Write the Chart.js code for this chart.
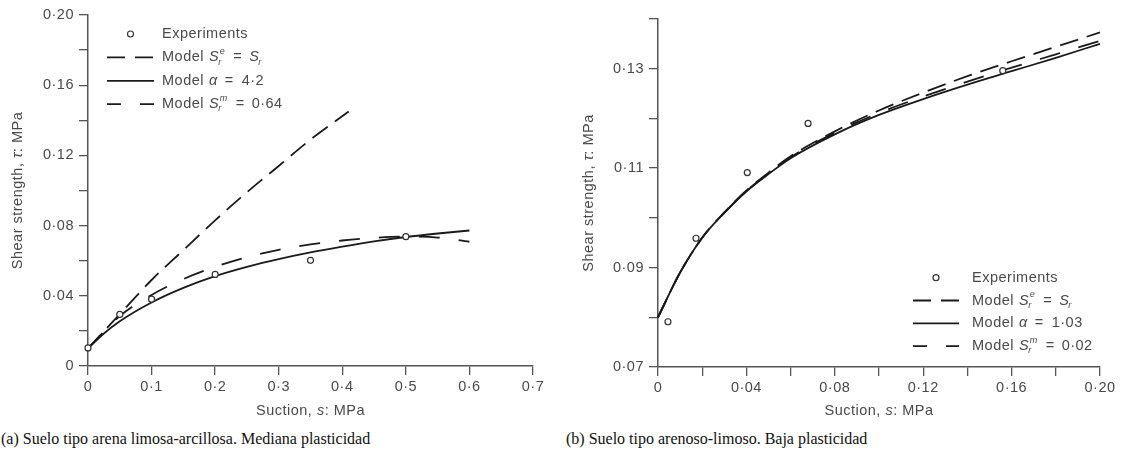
<!DOCTYPE html>
<html>
<head>
<meta charset="utf-8">
<script src="https://cdn.jsdelivr.net/npm/chart.js@4.4.0/dist/chart.umd.min.js"></script>
<style>
  body { margin: 0; background: #fff; width: 1122px; height: 459px; position: relative; overflow: hidden; }
  canvas { position: absolute; top: 0; }
  #chartA { left: 0; }
  #chartB { left: 561px; }
  .caption { position: absolute; top: 430px; font-family: 'Liberation Serif', 'Times New Roman', serif; font-size: 16px; color: #111; white-space: nowrap; }
</style>
</head>
<body>
<canvas id="chartA" width="560" height="425"></canvas>
<canvas id="chartB" width="561" height="425"></canvas>
<div class="caption" style="left:1px">(a) Suelo tipo arena limosa-arcillosa. Mediana plasticidad</div>
<div class="caption" style="left:566px">(b) Suelo tipo arenoso-limoso. Baja plasticidad</div>
<script>
// (a) arena limosa-arcillosa
const expA_s   = [0, 0.05, 0.1, 0.2, 0.35, 0.5];
const expA_tau = [0.0103, 0.0294, 0.0381, 0.0522, 0.0602, 0.0737];
const srEA_s   = [0, 0.05, 0.1, 0.15, 0.2, 0.25, 0.3, 0.35, 0.41];
const srEA_tau = [0.010, 0.0295, 0.049, 0.066, 0.083, 0.099, 0.114, 0.129, 0.145];
const alphaA_s   = [0, 0.025, 0.05, 0.1, 0.15, 0.2, 0.25, 0.3, 0.35, 0.4, 0.45, 0.5, 0.55, 0.6];
const alphaA_tau = [0.010, 0.0185, 0.0255, 0.0362, 0.0445, 0.0512, 0.0565, 0.0609, 0.0647, 0.0680, 0.0710, 0.0735, 0.0755, 0.0772];
const srMA_s   = [0, 0.05, 0.1, 0.15, 0.2, 0.25, 0.3, 0.35, 0.4, 0.45, 0.5, 0.55, 0.6];
const srMA_tau = [0.010, 0.0285, 0.0405, 0.0495, 0.0565, 0.062, 0.0662, 0.0693, 0.0715, 0.073, 0.0737, 0.0732, 0.0708];
const alphaA = '4·2';
const srmA = '0·64';
const ticksA_x = [0, 0.1, 0.2, 0.3, 0.4, 0.5, 0.6, 0.7];
const ticksA_y = [0, 0.04, 0.08, 0.12, 0.16, 0.20];

// (b) arenoso-limoso
const expB_s   = [0.0045, 0.0172, 0.0404, 0.0679, 0.156];
const expB_tau = [0.0791, 0.0959, 0.1091, 0.1190, 0.1296];
const modelB_s   = [0, 0.01, 0.02, 0.03, 0.04, 0.05, 0.06, 0.08, 0.10, 0.12, 0.14, 0.16, 0.18, 0.20];
const srEB_tau   = [0.0800, 0.0890, 0.0960, 0.1011, 0.1055, 0.1091, 0.1124, 0.1174, 0.1216, 0.1252, 0.1285, 0.1315, 0.1344, 0.1373];
const alphaB_tau = [0.0800, 0.0890, 0.0960, 0.1010, 0.1053, 0.1088, 0.1120, 0.1168, 0.1207, 0.1239, 0.1268, 0.1295, 0.1322, 0.1350];
const srMB_tau   = [0.0800, 0.0890, 0.0960, 0.1010, 0.1054, 0.1089, 0.1122, 0.1171, 0.1211, 0.1244, 0.1274, 0.1302, 0.1329, 0.1356];
const alphaB = '1·03';
const srmB = '0·02';
const ticksB_x = [0, 0.04, 0.08, 0.12, 0.16, 0.20];
const ticksB_y = [0.07, 0.09, 0.11, 0.13];

const FONT = '"Liberation Sans", Arial, Helvetica, sans-serif';
const SIZE = 14.5;
const SPACING = '0.5px';
const TEXT = '#4a4a4a';
const AXIS = '#555';
const INK = '#1a1a1a';
const DASH_E = [19, 9];
const DASH_M = [21, 19];

const pts = (xs, ys) => xs.map((x, i) => ({ x: x, y: ys[i] }));

function fmt(v, dec) {
  if (Math.abs(v) < 1e-9) return '0';
  return v.toFixed(dec).replace('.', '·');
}
function tickCb(labels, dec) {
  return function(value) {
    return labels.some(l => Math.abs(l - value) < 1e-7) ? fmt(value, dec) : '';
  };
}

// texto con cursivas, subíndices y superíndices; gap = espacio en px tras la pieza
function richText(ctx, parts, x, y, size, draw) {
  let cx = x;
  for (const p of parts) {
    const style = p.it ? 'italic ' : '';
    ctx.font = style + size + 'px ' + FONT;
    const w = ctx.measureText(p.t).width;
    if (draw) ctx.fillText(p.t, cx, y);
    let extra = 0;
    const small = Math.round(size * 0.62);
    if (p.sup) {
      ctx.font = style + small + 'px ' + FONT;
      if (draw) ctx.fillText(p.sup, cx + w + 0.5, y - size * 0.42);
      extra = Math.max(extra, ctx.measureText(p.sup).width + 0.5);
    }
    if (p.sub) {
      ctx.font = style + small + 'px ' + FONT;
      if (draw) ctx.fillText(p.sub, cx + w - 1, y + size * 0.32);
      extra = Math.max(extra, ctx.measureText(p.sub).width - 1);
    }
    cx += w + extra + (p.gap || 0);
  }
  return cx - x;
}

const decorPlugin = {
  id: 'decor',
  beforeDraw(chart) {
    chart.ctx.letterSpacing = SPACING;
  },
  afterDraw(chart, args, opts) {
    const ctx = chart.ctx;
    const area = chart.chartArea;
    ctx.save();
    ctx.letterSpacing = SPACING;
    ctx.fillStyle = TEXT;
    ctx.textBaseline = 'middle';
    ctx.textAlign = 'left';

    // título eje x
    const xt = [{ t: 'Suction, ' }, { t: 's', it: true }, { t: ': MPa' }];
    let w = richText(ctx, xt, 0, 0, SIZE, false);
    richText(ctx, xt, (area.left + area.right) / 2 - w / 2, opts.xTitleY, SIZE, true);

    // título eje y
    const yt = [{ t: 'Shear strength, ' }, { t: 'τ', it: true }, { t: ': MPa' }];
    w = richText(ctx, yt, 0, 0, SIZE, false);
    ctx.save();
    ctx.translate(opts.yTitleX, (area.top + area.bottom) / 2);
    ctx.rotate(-Math.PI / 2);
    richText(ctx, yt, -w / 2, 0, SIZE, true);
    ctx.restore();

    // leyenda
    const lg = opts.legend;
    lg.rows.forEach((row, i) => {
      const y = lg.y0 + i * lg.dy;
      ctx.strokeStyle = INK;
      ctx.lineWidth = 1.8;
      if (row.kind === 'marker') {
        ctx.beginPath();
        ctx.arc((lg.x0 + lg.x1) / 2, y, 3, 0, Math.PI * 2);
        ctx.fillStyle = '#fff';
        ctx.fill();
        ctx.lineWidth = 1.2;
        ctx.strokeStyle = '#333';
        ctx.stroke();
      } else {
        ctx.setLineDash(row.dash);
        ctx.beginPath();
        ctx.moveTo(lg.x0, y);
        ctx.lineTo(lg.x1, y);
        ctx.stroke();
        ctx.setLineDash([]);
      }
      ctx.fillStyle = TEXT;
      richText(ctx, row.parts, lg.xt, y, SIZE, true);
    });
    ctx.restore();
  }
};

function axisOpts(min, max, step, labels, dec, fixed, isY) {
  return {
    type: 'linear',
    min: min,
    max: max,
    afterFit(scale) {
      if (isY) scale.width = fixed; else scale.height = fixed;
    },
    ticks: {
      stepSize: step,
      autoSkip: false,
      maxRotation: 0,
      padding: isY ? 5 : 3,
      color: TEXT,
      font: { family: FONT, size: SIZE },
      callback: tickCb(labels, dec)
    },
    grid: {
      drawOnChartArea: false,
      drawTicks: true,
      tickLength: 9,
      tickColor: AXIS,
      lineWidth: 1.3
    },
    border: { display: true, color: AXIS, width: 1.5 }
  };
}

function lineSet(data, dash) {
  return {
    data: data,
    showLine: true,
    borderColor: INK,
    borderWidth: 1.8,
    borderDash: dash,
    pointRadius: 0,
    cubicInterpolationMode: 'monotone',
    fill: false,
    clip: false
  };
}
function expSet(data) {
  return {
    data: data,
    showLine: false,
    pointStyle: 'circle',
    pointRadius: 3,
    pointBorderWidth: 1.2,
    pointBorderColor: '#333',
    pointBackgroundColor: '#fff',
    clip: false
  };
}

function legendRows(alpha, srm) {
  return [
    { kind: 'marker', parts: [{ t: 'Experiments' }] },
    { kind: 'line', dash: [18, 10], parts: [{ t: 'Model', gap: 5 }, { t: 'S', it: true, sup: 'e', sub: 'r', gap: 8 }, { t: '=', gap: 7 }, { t: 'S', it: true, sub: 'r' }] },
    { kind: 'line', dash: [], parts: [{ t: 'Model', gap: 5 }, { t: 'α', it: true, gap: 7 }, { t: '=', gap: 8 }, { t: alpha }] },
    { kind: 'line', dash: [14, 19], parts: [{ t: 'Model', gap: 5 }, { t: 'S', it: true, sup: 'm', sub: 'r', gap: 8 }, { t: '=', gap: 7 }, { t: srm }] }
  ];
}

function makeChart(id, datasets, xs, ys, layout, decor) {
  return new Chart(document.getElementById(id).getContext('2d'), {
    type: 'scatter',
    data: { datasets: datasets },
    options: {
      responsive: false,
      animation: false,
      events: [],
      layout: { padding: layout.padding },
      plugins: {
        legend: { display: false },
        tooltip: { enabled: false },
        decor: decor
      },
      scales: { x: xs, y: ys }
    },
    plugins: [decorPlugin]
  });
}

makeChart('chartA',
  [
    expSet(pts(expA_s, expA_tau)),
    lineSet(pts(srEA_s, srEA_tau), DASH_E),
    lineSet(pts(alphaA_s, alphaA_tau), []),
    lineSet(pts(srMA_s, srMA_tau), DASH_M)
  ],
  axisOpts(0, 0.7, 0.1, ticksA_x, 1, 59, false),
  axisOpts(0, 0.2, 0.02, ticksA_y, 2, 88, true),
  { padding: { top: 15, right: 27, left: 0, bottom: 0 } },
  {
    xTitleY: 411,
    yTitleX: 18,
    legend: { x0: 107, x1: 154, xt: 162, y0: 34, dy: 23.4, rows: legendRows(alphaA, srmA) }
  }
);

makeChart('chartB',
  [
    expSet(pts(expB_s, expB_tau)),
    lineSet(pts(modelB_s, srEB_tau), DASH_E),
    lineSet(pts(modelB_s, alphaB_tau), []),
    lineSet(pts(modelB_s, srMB_tau), DASH_M)
  ],
  axisOpts(0, 0.2, 0.02, ticksB_x, 2, 58, false),
  axisOpts(0.07, 0.14, 0.01, ticksB_y, 2, 97, true),
  { padding: { top: 19, right: 22, left: 0, bottom: 0 } },
  {
    xTitleY: 411,
    yTitleX: 28,
    legend: { x0: 352, x1: 398, xt: 411, y0: 277.7, dy: 22.8, rows: legendRows(alphaB, srmB) }
  }
);
</script>
</body>
</html>
